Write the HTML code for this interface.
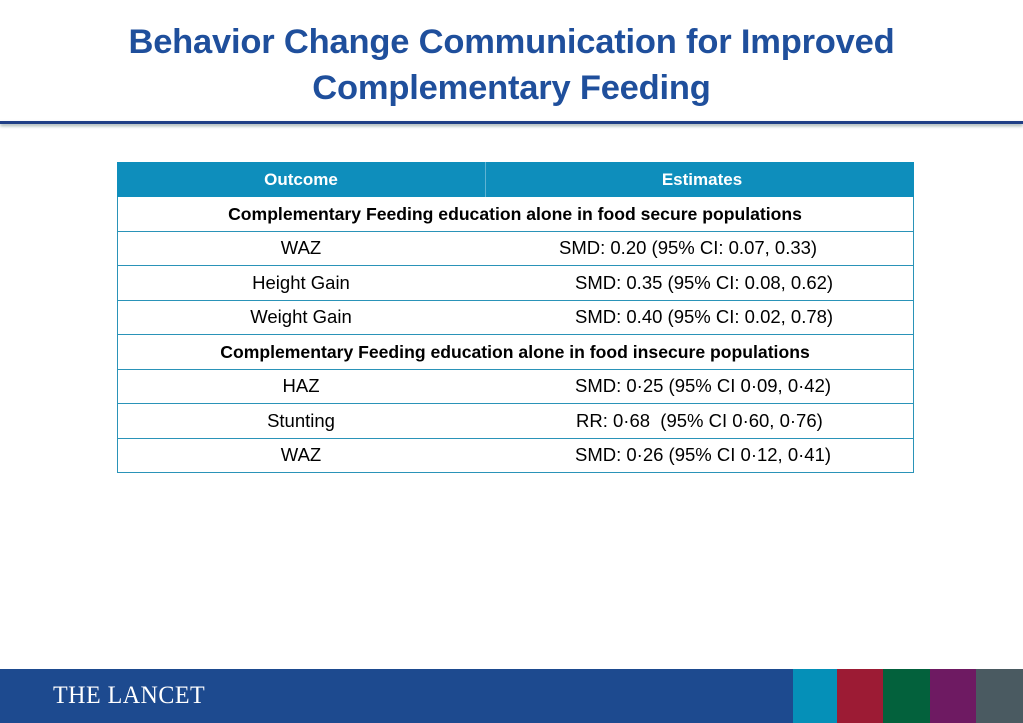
<!DOCTYPE html>
<html><head><meta charset="utf-8"><style>
body{margin:0;width:1023px;height:723px;position:relative;background:#fff;font-family:"Liberation Sans",sans-serif;overflow:hidden}
.t{position:absolute;left:0;width:1023px;text-align:center;color:#1f4f9c;font-weight:bold;font-size:34.5px;letter-spacing:-0.2px}
.row{position:absolute;left:117px;width:797px;height:34px;border-bottom:1px solid #2a93b8;font-size:18.5px;color:#000}
.row span{position:absolute;top:6px;white-space:nowrap}
.c{width:0;display:flex;justify-content:center}
</style></head><body>
<div class="t" style="top:23px">Behavior Change Communication for Improved</div>
<div class="t" style="top:69px">Complementary Feeding</div>
<div style="position:absolute;left:0;top:121px;width:1023px;height:3px;background:#1f3f86;box-shadow:0 2px 3px #9aa"></div>
<div style="position:absolute;left:117px;top:162px;width:797px;height:310px;border-left:1px solid #2a93b8;border-right:1px solid #2a93b8;box-sizing:border-box"></div>
<div class="row" style="top:162px;height:35px;background:#0e8ebc;color:#fff;font-weight:bold;border:none;font-size:17px">
<span class="c" style="left:184px;top:8px">Outcome</span><span class="c" style="left:585px;top:8px">Estimates</span>
<div style="position:absolute;left:368px;top:0;width:1px;height:35px;background:#5fb3d3"></div></div>
<div class="row" style="top:197px"><span class="c" style="left:398px;font-weight:bold;font-size:17.6px;top:7px">Complementary Feeding education alone in food secure populations</span></div>
<div class="row" style="top:231px"><span class="c" style="left:184px">WAZ</span><span style="left:442px">SMD: 0.20 (95% CI: 0.07, 0.33)</span></div>
<div class="row" style="top:266px"><span class="c" style="left:184px">Height Gain</span><span style="left:458px">SMD: 0.35 (95% CI: 0.08, 0.62)</span></div>
<div class="row" style="top:300px"><span class="c" style="left:184px">Weight Gain</span><span style="left:458px">SMD: 0.40 (95% CI: 0.02, 0.78)</span></div>
<div class="row" style="top:335px"><span class="c" style="left:398px;font-weight:bold;font-size:17.6px;top:7px">Complementary Feeding education alone in food insecure populations</span></div>
<div class="row" style="top:369px"><span class="c" style="left:184px">HAZ</span><span style="left:458px">SMD: 0·25 (95% CI 0·09, 0·42)</span></div>
<div class="row" style="top:404px"><span class="c" style="left:184px">Stunting</span><span style="left:459px">RR: 0·68 &nbsp;(95% CI 0·60, 0·76)</span></div>
<div class="row" style="top:438px"><span class="c" style="left:184px">WAZ</span><span style="left:458px">SMD: 0·26 (95% CI 0·12, 0·41)</span></div>
<div style="position:absolute;left:0;top:669px;width:1023px;height:54px;background:#1d4a8f">
<div style="position:absolute;left:53px;top:13px;color:#fff;font-family:'Liberation Serif',serif;font-size:25px;letter-spacing:0.5px;transform:scaleX(0.96);transform-origin:left">THE LANCET</div>
<div style="position:absolute;left:793px;top:0;width:44px;height:54px;background:#0590b8"></div>
<div style="position:absolute;left:837px;top:0;width:46px;height:54px;background:#9c1b34"></div>
<div style="position:absolute;left:883px;top:0;width:47px;height:54px;background:#03613c"></div>
<div style="position:absolute;left:930px;top:0;width:46px;height:54px;background:#6e1a62"></div>
<div style="position:absolute;left:976px;top:0;width:47px;height:54px;background:#4a5a61"></div>
</div>
</body></html>
